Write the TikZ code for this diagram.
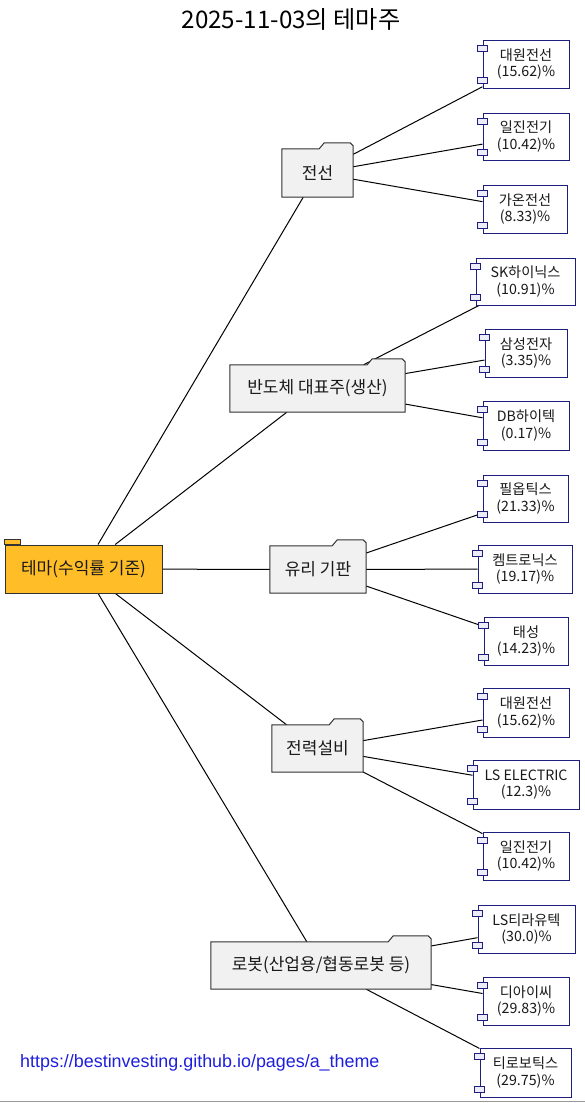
\documentclass[tikz,border=0pt]{standalone}
\usepackage{fontspec}
\setmainfont{Noto Sans CJK KR}
\newfontfamily\urlfont{Liberation Sans}
\usetikzlibrary{backgrounds,calc}
\definecolor{rootfill}{RGB}{255,189,40}
\definecolor{foldfill}{RGB}{241,241,241}
\definecolor{foldline}{RGB}{50,50,50}
\definecolor{leafline}{RGB}{30,30,125}
\definecolor{portfill}{RGB}{236,236,250}
\definecolor{urlblue}{RGB}{30,30,220}
\definecolor{txt}{RGB}{25,25,25}
\tikzset{
  leaf/.style={rectangle, draw=leafline, fill=white, line width=1pt, inner sep=0pt,
    minimum height=48pt, align=center, font=\fontsize{14.2}{16.5}\selectfont, text=txt},
  port/.style={rectangle, draw=leafline, fill=portfill, line width=1pt,
    minimum width=10pt, minimum height=6pt, inner sep=0pt},
  folder/.style={rectangle, inner sep=0pt, font=\fontsize{17}{20}\selectfont, text=txt},
  foldshape/.style={draw=foldline, fill=foldfill, line width=1pt, line join=miter},
  rootbox/.style={rectangle, draw=foldline, fill=rootfill, line width=1pt, inner sep=0pt,
    font=\fontsize{17}{20}\selectfont, text=txt},
  conn/.style={draw=black, line width=1pt},
}
\newcommand{\leafbox}[6]{%
  \node[leaf, minimum width={(#3-#2)*1pt}, minimum height={(#5-#4)*1pt}] (#1) at ({(#2+#3)/2},{(#4+#5)/2}) {#6};
  \node[port] (#1p1) at ($(#1.north west)+(0pt,-9pt)$) {};
  \node[port] (#1p2) at ($(#1.south west)+(0pt,8pt)$) {};
}
\newcommand{\folderbox}[6]{%
  \node[folder, minimum width={(#3-#2)*1pt}, minimum height={(#5-#4)*1pt}] (#1) at ({(#2+#3)/2},{(#4+#5)/2}) {#6};
}
\newcommand{\foldshape}[2]{%
  \draw[foldshape] (#1.south west) -- (#1.north west) -- ([xshift=-#2pt]#1.north east)
    -- ([xshift=-#2pt+5pt,yshift=6pt]#1.north east) -- ([xshift=-3pt,yshift=6pt]#1.north east)
    -- ([yshift=3pt]#1.north east) -- (#1.south east) -- cycle;
}
\begin{document}
\begin{tikzpicture}[x=1pt,y=-1pt]
\useasboundingbox (0,0) rectangle (585,1103);
\node (title) at (291,19) {\fontsize{24.2}{28}\selectfont 2025-11-03의 테마주};

% root
\node[rootbox, minimum width=157pt, minimum height=48pt] (root) at (83.5,569) {테마(수익률 기준)};

% folders
\folderbox{jeonseon}{282}{353}{149}{197}{전선}
\folderbox{bando}{230}{405}{365}{412}{반도체 대표주(생산)}
\folderbox{yuri}{270}{366}{546}{593}{유리 기판}
\folderbox{jeonryeok}{272}{363}{725}{772}{전력설비}
\folderbox{robot}{211}{431}{942}{989}{로봇(산업용/협동로봇 등)}

% leaves
\leafbox{dwa}{483}{569}{40}{88}{대원전선\\(15.62)\%}
\leafbox{ija}{483}{569}{113}{160}{일진전기\\(10.42)\%}
\leafbox{gaon}{483}{567}{185}{233}{가온전선\\(8.33)\%}
\leafbox{sk}{476}{575}{258}{305}{SK하이닉스\\(10.91)\%}
\leafbox{ss}{485}{567}{329}{377}{삼성전자\\(3.35)\%}
\leafbox{db}{483}{569}{401}{450}{DB하이텍\\(0.17)\%}
\leafbox{pil}{483}{568}{475}{522}{필옵틱스\\(21.33)\%}
\leafbox{chem}{478}{572}{545}{593}{켐트로닉스\\(19.17)\%}
\leafbox{ts}{484}{568}{617}{665}{태성\\(14.23)\%}
\leafbox{dwb}{483}{569}{688}{737}{대원전선\\(15.62)\%}
\leafbox{ls}{473}{579}{760}{809}{LS ELECTRIC\\(12.3)\%}
\leafbox{ijb}{483}{569}{832}{880}{일진전기\\(10.42)\%}
\leafbox{lst}{478}{575}{905}{953}{LS티라유텍\\(30.0)\%}
\leafbox{dic}{483}{569}{977}{1025}{디아이씨\\(29.83)\%}
\leafbox{tro}{480}{571}{1048}{1097}{티로보틱스\\(29.75)\%}

\node[anchor=west, text=urlblue, inner sep=0pt] (url) at (20,1063)
  {\urlfont\fontsize{17.9}{20}\selectfont https://bestinvesting.github.io/pages/a\_theme};

\begin{pgfonlayer}{background}
  \foreach \f in {jeonseon,bando,yuri,jeonryeok,robot} \draw[conn] (root) -- (\f);
  \foreach \l in {dwa,ija,gaon} \draw[conn] (jeonseon) -- (\l);
  \foreach \l in {sk,ss,db} \draw[conn] (bando) -- (\l);
  \foreach \l in {pil,chem,ts} \draw[conn] (yuri) -- (\l);
  \foreach \l in {dwb,ls,ijb} \draw[conn] (jeonryeok) -- (\l);
  \foreach \l in {lst,dic,tro} \draw[conn] (robot) -- (\l);
  \foldshape{jeonseon}{34}
  \foldshape{bando}{38}
  \foldshape{yuri}{34}
  \foldshape{jeonryeok}{34}
  \foldshape{robot}{43}
  \draw[draw=foldline, fill=rootfill, line width=1pt] (root.north west) rectangle ([xshift=16pt,yshift=5pt]root.north west);
\end{pgfonlayer}
\draw[draw=black!40, line width=1pt] (0,1101.5) -- (585,1101.5);
\end{tikzpicture}
\end{document}
